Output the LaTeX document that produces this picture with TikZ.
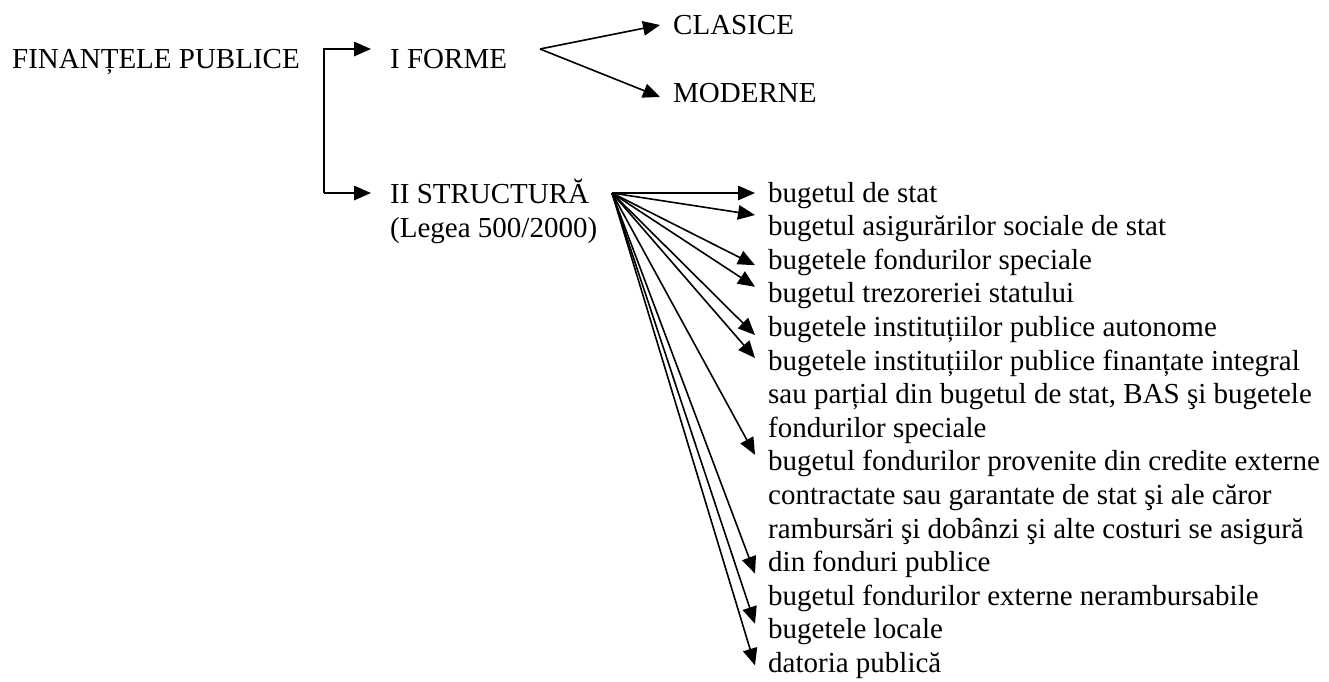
\documentclass[tikz,border=0pt]{standalone}
\usepackage{fontspec}
\setmainfont{Liberation Serif}
\usetikzlibrary{arrows.meta,calc}
\begin{document}
\begin{tikzpicture}[x=1pt,y=-1pt,
  lbl/.style={anchor=base west,inner sep=0pt,font=\fontsize{29}{33}\selectfont},
  link/.style={line width=1.6pt,line join=miter},
  arr/.style={link,-{Triangle[length=17pt,width=14.5pt]}}]
\useasboundingbox (0,0) rectangle (1329,681);

% main headings
\node[lbl] (fin)    at (12,68)  {FINANȚELE PUBLICE};
\node[lbl] (forme)  at (390,68) {I FORME};
\node[lbl] (clas)   at (673,34) {CLASICE};
\node[lbl] (mod)    at (673,102) {MODERNE};
\node[lbl] (struct) at (390,203) {II STRUCTURĂ};
\node[lbl] (lege)   at (390,237) {(Legea 500/2000)};

% list of budgets (one node per printed line)
\foreach \i/\t in {
  0/{bugetul de stat},
  1/{bugetul asigurărilor sociale de stat},
  2/{bugetele fondurilor speciale},
  3/{bugetul trezoreriei statului},
  4/{bugetele instituțiilor publice autonome},
  5/{bugetele instituțiilor publice finanțate integral},
  6/{sau parțial din bugetul de stat, BAS şi bugetele},
  7/{fondurilor speciale},
  8/{bugetul fondurilor provenite din credite externe},
  9/{contractate sau garantate de stat şi ale căror},
  10/{rambursări şi dobânzi şi alte costuri se asigură},
  11/{din fonduri publice},
  12/{bugetul fondurilor externe nerambursabile},
  13/{bugetele locale},
  14/{datoria publică}}
  \node[lbl] (l\i) at (768,{202+33.6*\i}) {\t};

% bracket from the title to the two branches
\coordinate (brtop) at (324,49);
\coordinate (brbot) at (324,193);
\draw[arr] (brbot) -- (brtop) -- ($(forme.base west)+(-19,-19)$);
\draw[arr] (brbot) -- ($(struct.base west)+(-19,-10)$);

% forms fork
\coordinate (fork) at (540,49);
\draw[arr] (fork) -- ($(clas.base west)+(-13,-9)$);
\draw[arr] (fork) -- ($(mod.base west)+(-13,-5)$);

% structure fan
\coordinate (fan) at (612,193);
\foreach \n/\dy in {0/-9, 1/-20.6, 2/-4, 3/-16, 4/-1.4, 5/-12, 8/-16, 11/2, 13/-15, 14/-7}
  \draw[arr] (fan) -- ($(l\n.base west)+(-13,\dy)$);
\end{tikzpicture}
\end{document}
